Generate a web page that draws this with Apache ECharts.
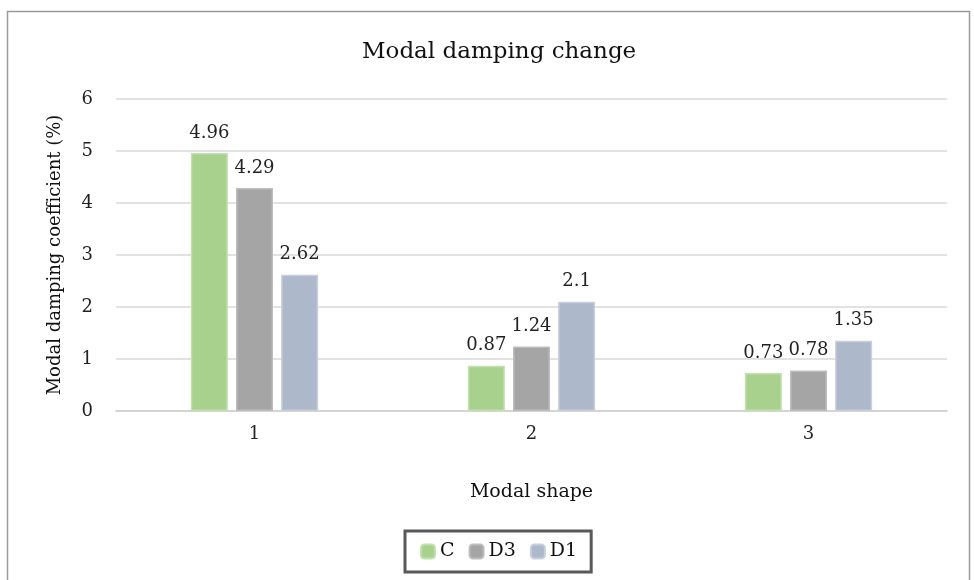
<!DOCTYPE html>
<html>
<head>
<meta charset="utf-8">
<script src="https://cdn.jsdelivr.net/npm/echarts@6/dist/echarts.min.js"></script>
<style>
  html, body { margin: 0; padding: 0; background: #fff; }
  #container { width: 974px; height: 580px; }
</style>
</head>
<body>
<div id="container"></div>
<script>
// modal shapes along the x axis
var shapes = ['1', '2', '3'];
// damping coefficients (%) per configuration
var seriesC = [4.96, 0.87, 0.73];
var seriesD3 = [4.29, 1.24, 0.78];
var seriesD1 = [2.62, 2.1, 1.35];
var yTicks = [0, 1, 2, 3, 4, 5, 6];

var font = '"DejaVu Serif", "Liberation Serif", serif';

function bar(name, data, fill, edge) {
    return {
        name: name,
        type: 'bar',
        data: data,
        barWidth: 37,
        barGap: '22%',
        itemStyle: { color: fill, borderColor: edge, borderWidth: 1.5 },
        label: {
            show: true,
            position: 'top',
            distance: 11,
            fontFamily: font,
            fontSize: 18,
            color: '#222'
        }
    };
}

var myChart = echarts.init(document.getElementById('container'));
var option = {
    animation: false,
    backgroundColor: '#fff',
    title: {
        text: 'Modal damping change',
        left: 357,
        top: 36,
        textStyle: { fontFamily: font, fontSize: 23, fontWeight: 'normal', color: '#111' }
    },
    graphic: [{
        type: 'rect',
        shape: { x: 7.5, y: 11.5, width: 962, height: 580 },
        style: { fill: 'none', stroke: '#9a9a9a', lineWidth: 1.5 },
        z: -1
    }],
    legend: {
        bottom: 8,
        left: 405,
        itemWidth: 14,
        itemHeight: 14,
        itemGap: 14,
        padding: [11, 14, 11, 15],
        borderColor: '#595959',
        borderWidth: 3,
        textStyle: { fontFamily: font, fontSize: 19, color: '#111' },
        data: ['C', 'D3', 'D1']
    },
    grid: { left: 116, right: 27, top: 99, bottom: 169 },
    xAxis: {
        type: 'category',
        data: shapes,
        name: 'Modal shape',
        nameLocation: 'middle',
        nameGap: 72,
        nameTextStyle: { fontFamily: font, fontSize: 19, color: '#111' },
        axisLine: { lineStyle: { color: '#d0d0d0', width: 1.5 } },
        axisTick: { show: false },
        axisLabel: { fontFamily: font, fontSize: 18, color: '#222', margin: 14 }
    },
    yAxis: {
        type: 'value',
        min: yTicks[0],
        max: yTicks[yTicks.length - 1],
        interval: 1,
        name: 'Modal damping coefficient (%)',
        nameLocation: 'middle',
        nameGap: 52,
        nameTextStyle: { fontFamily: font, fontSize: 18, color: '#111' },
        axisLine: { show: false },
        axisTick: { show: false },
        axisLabel: { fontFamily: font, fontSize: 18, color: '#222', margin: 23 },
        splitLine: { lineStyle: { color: '#d9d9d9', width: 1.5 } }
    },
    series: [
        bar('C', seriesC, '#a9d18e', '#c2e0ad'),
        bar('D3', seriesD3, '#a5a5a5', '#bdbdbd'),
        bar('D1', seriesD1, '#adb9ca', '#c6cfdb')
    ]
};
myChart.setOption(option);
</script>
</body>
</html>
